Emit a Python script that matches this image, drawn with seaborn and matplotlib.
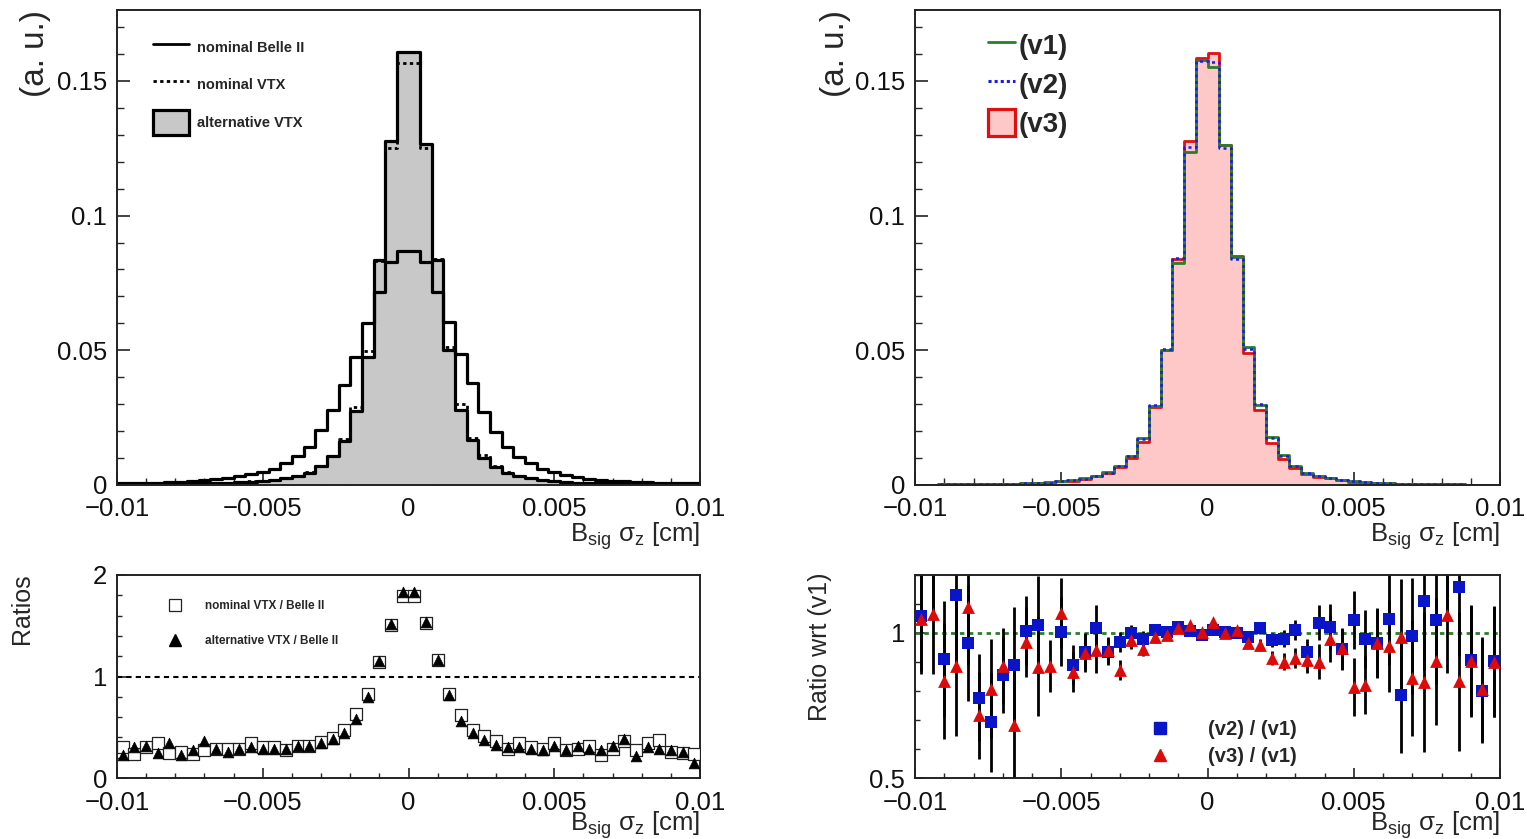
import numpy as np
import pandas as pd
import matplotlib
matplotlib.use("Agg")
import matplotlib.pyplot as plt
import seaborn as sns
from matplotlib.ticker import MultipleLocator, FuncFormatter
from matplotlib.lines import Line2D
from matplotlib.patches import Patch

# ---------------- data (50 bins, -0.01 .. 0.01 cm) ----------------
x_min, x_max, n_bins = -0.01, 0.01, 50

belle2 = [0.0006, 0.0007, 0.0008, 0.0009, 0.0010, 0.0012, 0.0014, 0.0017, 0.0021, 0.0026,
          0.0032, 0.0040, 0.0048, 0.0060, 0.0080, 0.0106, 0.0141, 0.0204, 0.0278, 0.0370,
          0.0476, 0.0602, 0.0716, 0.0829, 0.0870, 0.0870, 0.0826, 0.0718, 0.0606, 0.0486,
          0.0377, 0.0272, 0.0198, 0.0142, 0.0105, 0.0080, 0.0060, 0.0047, 0.0036, 0.0029,
          0.0023, 0.0019, 0.0016, 0.0013, 0.0011, 0.0010, 0.0009, 0.0008, 0.0007, 0.0006]
nominal_vtx = [0.0002, 0.0002, 0.0002, 0.0003, 0.0003, 0.0003, 0.0003, 0.0005, 0.0006, 0.0008,
               0.0010, 0.0013, 0.0015, 0.0019, 0.0026, 0.0034, 0.0047, 0.0071, 0.0108, 0.0172,
               0.0290, 0.0498, 0.0830, 0.1250, 0.1565, 0.1565, 0.1250, 0.0838, 0.0512, 0.0300,
               0.0175, 0.0111, 0.0072, 0.0047, 0.0035, 0.0026, 0.0019, 0.0015, 0.0011, 0.0009,
               0.0007, 0.0006, 0.0005, 0.0004, 0.0004, 0.0003, 0.0003, 0.0003, 0.0002, 0.0002]
alternative_vtx = [0.0002, 0.0002, 0.0003, 0.0003, 0.0003, 0.0003, 0.0004, 0.0006, 0.0006, 0.0008,
                   0.0010, 0.0012, 0.0015, 0.0019, 0.0026, 0.0033, 0.0046, 0.0069, 0.0106, 0.0163,
                   0.0276, 0.0476, 0.0835, 0.1278, 0.1606, 0.1606, 0.1266, 0.0835, 0.0501, 0.0280,
                   0.0168, 0.0102, 0.0067, 0.0046, 0.0034, 0.0025, 0.0019, 0.0015, 0.0011, 0.0009,
                   0.0007, 0.0006, 0.0005, 0.0004, 0.0004, 0.0003, 0.0003, 0.0003, 0.0002, 0.0001]

ratio_nominal = [0.31, 0.24, 0.31, 0.34, 0.25, 0.26, 0.24, 0.28, 0.29, 0.29,
                 0.29, 0.34, 0.31, 0.31, 0.28, 0.32, 0.32, 0.35, 0.39, 0.47,
                 0.63, 0.83, 1.14, 1.51, 1.79, 1.79, 1.53, 1.16, 0.83, 0.62,
                 0.47, 0.41, 0.36, 0.29, 0.34, 0.31, 0.29, 0.34, 0.28, 0.29,
                 0.32, 0.23, 0.29, 0.36, 0.28, 0.34, 0.37, 0.26, 0.25, 0.24]
ratio_alternative = [0.23, 0.31, 0.32, 0.25, 0.34, 0.23, 0.28, 0.36, 0.29, 0.26,
                     0.29, 0.31, 0.29, 0.29, 0.29, 0.32, 0.32, 0.34, 0.38, 0.44,
                     0.58, 0.80, 1.15, 1.52, 1.83, 1.83, 1.54, 1.16, 0.82, 0.56,
                     0.44, 0.37, 0.33, 0.31, 0.31, 0.29, 0.28, 0.32, 0.28, 0.32,
                     0.29, 0.28, 0.32, 0.38, 0.22, 0.31, 0.29, 0.28, 0.26, 0.15]

v1 = [0.0001, 0.0001, 0.0002, 0.0002, 0.0002, 0.0003, 0.0003, 0.0004, 0.0005, 0.0006,
      0.0008, 0.0010, 0.0014, 0.0019, 0.0026, 0.0034, 0.0047, 0.0072, 0.0107, 0.0173,
      0.0293, 0.0501, 0.0823, 0.1237, 0.1578, 0.1550, 0.1262, 0.0845, 0.0511, 0.0297,
      0.0179, 0.0111, 0.0071, 0.0046, 0.0034, 0.0025, 0.0019, 0.0014, 0.0010, 0.0008,
      0.0006, 0.0005, 0.0004, 0.0003, 0.0003, 0.0002, 0.0002, 0.0001, 0.0001, 0.0001]
v2 = [0.0001, 0.0001, 0.0002, 0.0002, 0.0002, 0.0002, 0.0002, 0.0003, 0.0004, 0.0006,
      0.0008, 0.0009, 0.0014, 0.0017, 0.0024, 0.0035, 0.0044, 0.0070, 0.0107, 0.0170,
      0.0296, 0.0503, 0.0841, 0.1256, 0.1572, 0.1570, 0.1250, 0.0838, 0.0505, 0.0302,
      0.0175, 0.0109, 0.0072, 0.0043, 0.0035, 0.0026, 0.0018, 0.0015, 0.0010, 0.0008,
      0.0006, 0.0004, 0.0004, 0.0003, 0.0003, 0.0002, 0.0002, 0.0001, 0.0001, 0.0001]
v3 = [0.0001, 0.0001, 0.0002, 0.0002, 0.0002, 0.0002, 0.0002, 0.0004, 0.0003, 0.0006,
      0.0007, 0.0009, 0.0015, 0.0016, 0.0024, 0.0032, 0.0044, 0.0065, 0.0102, 0.0160,
      0.0290, 0.0501, 0.0838, 0.1277, 0.1584, 0.1605, 0.1262, 0.0850, 0.0489, 0.0278,
      0.0157, 0.0095, 0.0064, 0.0042, 0.0031, 0.0025, 0.0018, 0.0011, 0.0008, 0.0008,
      0.0006, 0.0005, 0.0003, 0.0002, 0.0003, 0.0002, 0.0002, 0.0001, 0.0001, 0.0001]

ratio_v2 = [1.060, 1.250, 0.911, 1.130, 0.967, 0.777, 0.692, 0.855, 0.889, 1.008,
            1.027, 0.400, 1.005, 0.890, 0.936, 1.016, 0.936, 0.970, 0.999, 0.981,
            1.010, 1.005, 1.022, 1.008, 0.993, 1.010, 1.005, 1.001, 0.987, 1.016,
            0.976, 0.981, 1.010, 0.936, 1.036, 1.020, 0.944, 1.045, 0.981, 0.964,
            1.048, 0.787, 0.990, 1.112, 1.044, 1.250, 1.159, 0.906, 0.800, 0.902]
ratio_v3 = [1.047, 1.067, 0.833, 0.886, 1.090, 0.716, 0.808, 0.886, 0.682, 0.969,
            0.884, 0.886, 1.068, 0.866, 0.930, 0.941, 0.941, 0.872, 0.976, 0.944,
            0.987, 0.993, 1.016, 1.027, 1.005, 1.039, 0.999, 1.010, 0.964, 0.959,
            0.913, 0.901, 0.913, 0.907, 0.901, 0.981, 0.947, 0.815, 0.821, 0.967,
            0.955, 0.986, 0.845, 0.831, 0.902, 1.061, 0.833, 0.902, 0.806, 0.900]
ratio_err = [0.19, 0.21, 0.20, 0.24, 0.20, 0.15, 0.17, 0.13, 0.20, 0.12,
             0.17, 0.09, 0.12, 0.07, 0.065, 0.08, 0.045, 0.035, 0.03, 0.025,
             0.02, 0.015, 0.012, 0.01, 0.01, 0.01, 0.01, 0.012, 0.015, 0.02,
             0.025, 0.03, 0.035, 0.045, 0.06, 0.08, 0.07, 0.10, 0.10, 0.12,
             0.16, 0.20, 0.20, 0.24, 0.22, 0.20, 0.24, 0.19, 0.18, 0.19]

x_label = "B$_{\\rm sig}$ \u03c3$_{\\rm z}$ [cm]"

edges = np.linspace(x_min, x_max, n_bins + 1)
centers = 0.5 * (edges[:-1] + edges[1:])
df = pd.DataFrame({"x": centers, "belle2": belle2, "nominal_vtx": nominal_vtx,
                   "alternative_vtx": alternative_vtx, "r_nom": ratio_nominal,
                   "r_alt": ratio_alternative, "v1": v1, "v2": v2, "v3": v3,
                   "r_v2": ratio_v2, "r_v3": ratio_v3, "err": ratio_err})
HB = dict(bins=n_bins, binrange=(x_min, x_max), element="step")

# ---------------- style ----------------
sns.set_style("ticks")
plt.rcParams["font.family"] = ["Liberation Sans", "DejaVu Sans"]
plt.rcParams["mathtext.fontset"] = "custom"
plt.rcParams["mathtext.rm"] = "Liberation Sans"
plt.rcParams["mathtext.it"] = "Liberation Sans:italic"
plt.rcParams["axes.linewidth"] = 1.4
plt.rcParams["axes.edgecolor"] = "#222222"

W, H = 1527, 839
fig = plt.figure(figsize=(W / 100, H / 100), dpi=100)


def rect(l, t, r, b):
    return [l / W, 1 - b / H, (r - l) / W, (b - t) / H]


ax_tl = fig.add_axes(rect(117, 10, 700, 485))
ax_bl = fig.add_axes(rect(117, 575, 700, 778))
ax_tr = fig.add_axes(rect(915, 10, 1500, 485))
ax_br = fig.add_axes(rect(915, 575, 1500, 778))

TICK_FS = 18.5


def fmt(v, pos):
    s = "%g" % v
    return s.replace("-", "\u2212")


def style_axes(ax, top):
    ax.set_xlim(x_min, x_max)
    ax.xaxis.set_major_locator(MultipleLocator(0.005))
    ax.xaxis.set_minor_locator(MultipleLocator(0.001))
    ax.xaxis.set_major_formatter(FuncFormatter(fmt))
    ax.yaxis.set_major_formatter(FuncFormatter(fmt))
    maj = 9.5 if top else 7.5
    ax.tick_params(axis="both", which="major", direction="in", length=maj, width=1.1,
                   labelsize=TICK_FS, top=False, right=False, pad=7, colors="#111111")
    ax.tick_params(axis="both", which="minor", direction="in", length=maj / 2, width=1.0,
                   top=False, right=False)
    ax.tick_params(axis="x", which="major", pad=9)
    for s in ax.spines.values():
        s.set_visible(True)
    ax.set_xlabel(x_label, fontsize=TICK_FS, loc="right")
    ax.grid(False)


# ---------------- top left ----------------
sns.histplot(data=df, x="x", weights="alternative_vtx", **HB,
             fill=True, color="#c8c8c8", alpha=1, linewidth=0, ax=ax_tl)
sns.histplot(data=df, x="x", weights="alternative_vtx", **HB,
             fill=False, color="black", linewidth=2.3, ax=ax_tl)
sns.histplot(data=df, x="x", weights="belle2", **HB,
             fill=False, color="black", linewidth=2.3, ax=ax_tl)
sns.histplot(data=df, x="x", weights="nominal_vtx", **HB,
             fill=False, color="black", linewidth=2.0, linestyle=(0, (1.2, 1.2)), ax=ax_tl)
ax_tl.set_ylim(0, 0.1763)
style_axes(ax_tl, True)
ax_tl.yaxis.set_major_locator(MultipleLocator(0.05))
ax_tl.yaxis.set_minor_locator(MultipleLocator(0.01))
ax_tl.set_ylabel("(a. u.)", fontsize=24, loc="top")
ax_tl.yaxis.set_label_coords(-0.113, 1.0)

h_tl = [Line2D([], [], color="black", lw=2.0),
        Line2D([], [], color="black", lw=2.0, linestyle=(0, (1.2, 1.2))),
        Patch(facecolor="#c8c8c8", edgecolor="black", linewidth=2.3)]
ax_tl.legend(h_tl, ["nominal Belle II", "nominal VTX", "alternative VTX"],
             loc="upper left", bbox_to_anchor=(0.0617, 0.947), frameon=False,
             prop={"size": 10.5, "weight": "bold"}, handlelength=2.5, handleheight=2.2,
             handletextpad=0.5, labelspacing=0.9, borderpad=0, borderaxespad=0)

# ---------------- top right ----------------
RED, PINK, GREEN, BLUE = "#e01010", "#ffc8c8", "#2a7d2a", "#1a1aee"
sns.histplot(data=df, x="x", weights="v3", **HB,
             fill=True, color=PINK, alpha=1, linewidth=0, ax=ax_tr)
sns.histplot(data=df, x="x", weights="v3", **HB,
             fill=False, color=RED, linewidth=2.0, ax=ax_tr)
sns.histplot(data=df, x="x", weights="v1", **HB,
             fill=False, color=GREEN, linewidth=2.0, ax=ax_tr)
sns.histplot(data=df, x="x", weights="v2", **HB,
             fill=False, color=BLUE, linewidth=1.8, linestyle=(0, (1.2, 1.4)), ax=ax_tr)
ax_tr.set_ylim(0, 0.1763)
style_axes(ax_tr, True)
ax_tr.yaxis.set_major_locator(MultipleLocator(0.05))
ax_tr.yaxis.set_minor_locator(MultipleLocator(0.01))
ax_tr.set_ylabel("(a. u.)", fontsize=24, loc="top")
ax_tr.yaxis.set_label_coords(-0.109, 1.0)

h_tr = [Line2D([], [], color=GREEN, lw=2.0),
        Line2D([], [], color=BLUE, lw=2.2, linestyle=(0, (1.0, 1.0))),
        Patch(facecolor=PINK, edgecolor=RED, linewidth=2.3)]
ax_tr.legend(h_tr, ["(v1)", "(v2)", "(v3)"], loc="upper left",
             bbox_to_anchor=(0.125, 0.956), frameon=False,
             prop={"size": 20, "weight": "bold"}, handlelength=0.97, handleheight=1.08,
             handletextpad=0.12, labelspacing=0.38, borderpad=0, borderaxespad=0)

# ---------------- bottom left ----------------
ax_bl.axhline(1.0, color="black", lw=1.5, linestyle=(0, (2.5, 2.0)), zorder=1)
sns.scatterplot(data=df, x="x", y="r_nom", marker="s", s=70, facecolor="white",
                edgecolor="#222222", linewidth=0.9, ax=ax_bl, zorder=3)
sns.scatterplot(data=df, x="x", y="r_alt", marker="^", s=60, color="black",
                edgecolor="black", linewidth=0.5, ax=ax_bl, zorder=4)
ax_bl.set_ylim(0, 2)
style_axes(ax_bl, False)
ax_bl.yaxis.set_major_locator(MultipleLocator(1))
ax_bl.yaxis.set_minor_locator(MultipleLocator(0.2))
ax_bl.set_ylabel("Ratios", fontsize=18, loc="top")
ax_bl.yaxis.set_label_coords(-0.142, 1.01)
ax_bl.xaxis.set_label_coords(1.0, -0.152)

h_bl = [Line2D([], [], marker="s", linestyle="none", markersize=8, markerfacecolor="white",
               markeredgecolor="#222222", markeredgewidth=0.9),
        Line2D([], [], marker="^", linestyle="none", markersize=8, color="black")]
ax_bl.legend(h_bl, ["nominal VTX / Belle II", "alternative VTX / Belle II"], loc="upper left",
             bbox_to_anchor=(0.084, 0.877), frameon=False,
             prop={"size": 8.5, "weight": "bold"}, handlelength=1.5, handletextpad=1.8,
             labelspacing=1.95, borderpad=0, borderaxespad=0)

# ---------------- bottom right ----------------
ax_br.axhline(1.0, color=GREEN, lw=2.0, linestyle=(0, (1.6, 1.6)), zorder=1)
ax_br.errorbar(df["x"], df["r_v2"], yerr=df["err"], fmt="none", ecolor="black",
               elinewidth=2.0, capsize=0, zorder=2)
ax_br.errorbar(df["x"], df["r_v3"], yerr=df["err"], fmt="none", ecolor="black",
               elinewidth=2.0, capsize=0, zorder=2)
sns.scatterplot(data=df, x="x", y="r_v2", marker="s", s=80, color="#0a14c8",
                edgecolor="#0a14c8", linewidth=0, ax=ax_br, zorder=3)
sns.scatterplot(data=df, x="x", y="r_v3", marker="^", s=85, color="#dd0a0a",
                edgecolor="#dd0a0a", linewidth=0, ax=ax_br, zorder=4)
ax_br.set_ylim(0.5, 1.2)
style_axes(ax_br, False)
ax_br.yaxis.set_major_locator(MultipleLocator(0.5))
ax_br.yaxis.set_minor_locator(MultipleLocator(0.1))
ax_br.set_ylabel("Ratio wrt (v1)", fontsize=18, loc="top")
ax_br.yaxis.set_label_coords(-0.142, 1.01)
ax_br.xaxis.set_label_coords(1.0, -0.152)

h_br = [Line2D([], [], marker="s", linestyle="none", markersize=9, color="#0a14c8"),
        Line2D([], [], marker="^", linestyle="none", markersize=9, color="#dd0a0a")]
ax_br.legend(h_br, ["(v2) / (v1)", "(v3) / (v1)"], loc="upper left",
             bbox_to_anchor=(0.402, 0.285), frameon=False,
             prop={"size": 14.5, "weight": "bold"}, handlelength=1.0, handletextpad=1.85,
             labelspacing=0.4, borderpad=0, borderaxespad=0)

ax_tl.xaxis.set_label_coords(1.0, -0.075)
ax_tr.xaxis.set_label_coords(1.0, -0.075)
for ax in (ax_tl, ax_tr, ax_bl, ax_br):
    ax.xaxis.label.set_va("top")

fig.savefig("out.png", dpi=100)
